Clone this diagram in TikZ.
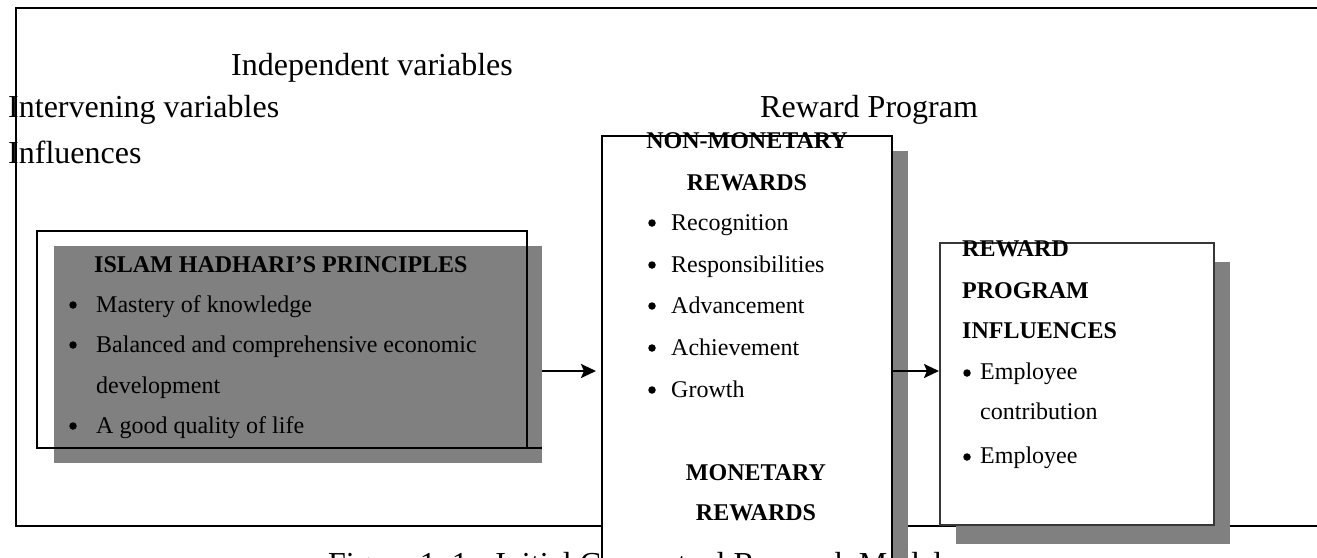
\documentclass[tikz,border=0pt]{standalone}
\usepackage{fontspec}
\setmainfont{Liberation Serif}
\usetikzlibrary{arrows.meta}
\definecolor{shade}{RGB}{128,128,128}
\definecolor{b3line}{RGB}{55,55,55}
\tikzset{
  lab/.style={font=\fontsize{32}{32}\selectfont, inner sep=0pt, anchor=base west},
  txt/.style={font=\fontsize{24}{24}\selectfont, inner sep=0pt, anchor=base west},
  btxt/.style={font=\fontsize{24}{24}\selectfont\bfseries, inner sep=0pt, anchor=base west},
  bctxt/.style={font=\fontsize{24}{24}\selectfont\bfseries, inner sep=0pt, anchor=base},
  bul/.style={circle, fill=black, inner sep=0pt, minimum size=7.5pt},
  boxA/.style={draw=black, line width=2pt, inner sep=0pt, outer sep=0pt, anchor=north west},
  shadowbox/.style={fill=shade, draw=none, inner sep=0pt, outer sep=0pt, anchor=north west},
  arr/.style={line width=2.2pt, -{Stealth[length=15pt,width=14pt,inset=3pt]}},
}
\begin{document}
\begin{tikzpicture}[x=1pt,y=-1pt]
\useasboundingbox (0,0) rectangle (1317,557);
\clip (0,0) rectangle (1317,557);
\fill[white] (0,0) rectangle (1317,557);

% outer frame
\draw[line width=2pt] (16,8) rectangle (1340,526);

% labels
\node[lab] (indep) at (231,75) {Independent variables};
\node[lab] (interv) at (8,117) {Intervening variables};
\node[lab] (infl) at (8,163) {Influences};
\node[lab] (rp) at (760,117) {Reward Program};

% box 1
\node[boxA, fill=white, minimum width=490pt, minimum height=217pt] (b1) at (37,231) {};
\node[shadowbox, minimum width=488pt, minimum height=217pt] (s1) at (54,246) {};
\draw[line width=2pt] (b1.south west) |- (b1.north east) -- (b1.south east);
\draw[line width=2pt] (b1.south west) -- (s1.east |- b1.south);
\node[btxt] (t1) at (94,272) {ISLAM HADHARI’S PRINCIPLES};
\node[bul] (u11) at (73,305) {};
\node[txt] (t11) at (96,312) {Mastery of knowledge};
\node[bul] (u12) at (73,345) {};
\node[txt] (t12) at (96,352) {Balanced and comprehensive economic};
\node[txt] (t12b) at (96,393) {development};
\node[bul] (u13) at (73,426) {};
\node[txt] (t13) at (96,433) {A good quality of life};

% box 2
\node[shadowbox, minimum width=291pt, minimum height=460pt] (s2) at (617,151) {};
\node[boxA, fill=white, minimum width=290pt, minimum height=460pt] (b2) at (602,136) {};
\node[bctxt] (t2a) at (747,148) {NON-MONETARY};
\node[bctxt] (t2b) at (747,190) {REWARDS};
\node[bul] (u21) at (652,223) {};
\node[txt] (t21) at (671,230) {Recognition};
\node[bul] (u22) at (652,265) {};
\node[txt] (t22) at (671,272) {Responsibilities};
\node[bul] (u23) at (652,306) {};
\node[txt] (t23) at (671,313) {Advancement};
\node[bul] (u24) at (652,348) {};
\node[txt] (t24) at (671,355) {Achievement};
\node[bul] (u25) at (652,390) {};
\node[txt] (t25) at (671,397) {Growth};
\node[bctxt] (t2c) at (756,480) {MONETARY};
\node[bctxt] (t2d) at (756,520) {REWARDS};

% box 3
\node[shadowbox, minimum width=274pt, minimum height=282pt] (s3) at (956,262) {};
\node[draw=b3line, line width=1.3pt, fill=white, inner sep=0pt, outer sep=0pt, anchor=north west, minimum width=274pt, minimum height=282pt] (b3) at (940,243) {};
\node[btxt] (t3a) at (962,256) {REWARD};
\node[btxt] (t3b) at (962,298) {PROGRAM};
\node[btxt] (t3c) at (962,338) {INFLUENCES};
\node[bul] (u31) at (967,373) {};
\node[txt] (t31) at (980,379) {Employee};
\node[txt] (t31b) at (980,419) {contribution};
\node[bul] (u32) at (967,457) {};
\node[txt] (t32) at (980,463) {Employee};

% arrows
\coordinate (a1) at (542,371);
\draw[arr, shorten >=6pt] (a1) -- (b2.west |- a1);
\coordinate (a2) at (893,371);
\draw[arr, shorten >=1pt] (a2) -- (b3.west |- a2);

% caption (cut off at the bottom, as in the reference)
\node[lab] (cap) at (328,574) {Figure 1.\ 1:\hspace{8pt} Initial Conceptual Research Model};
\end{tikzpicture}
\end{document}
